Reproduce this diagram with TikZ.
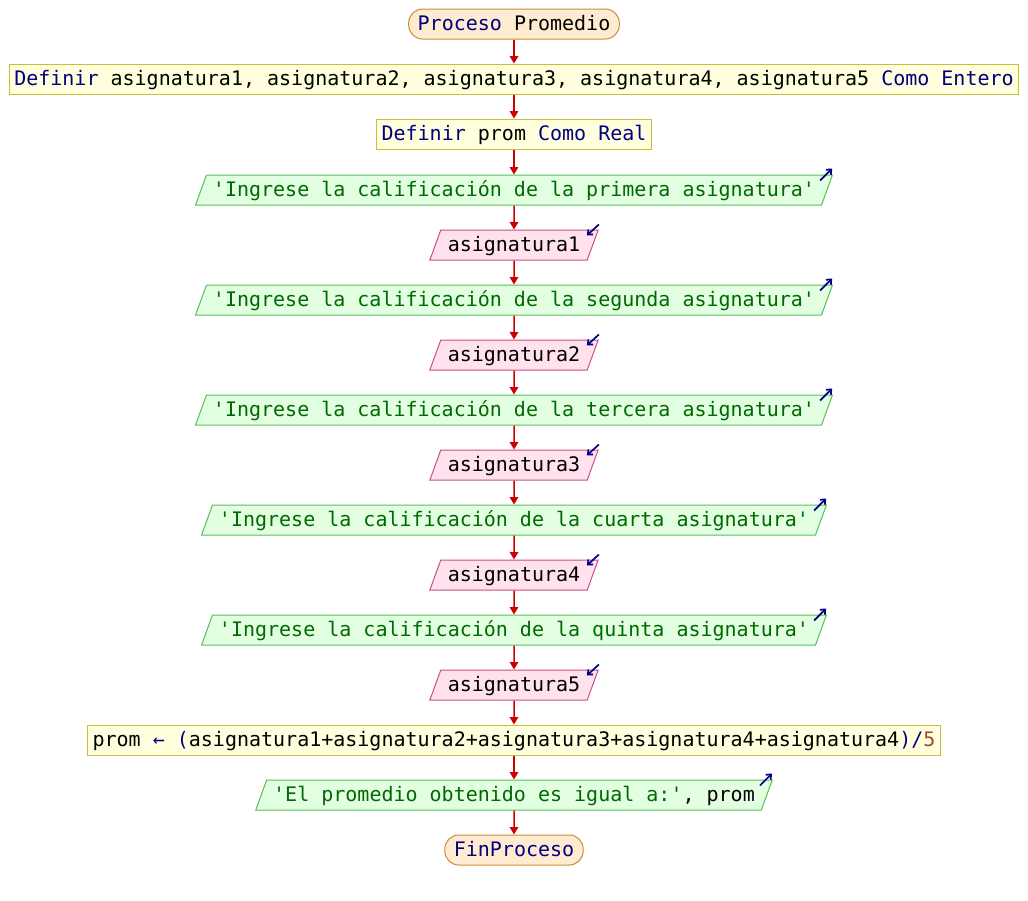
\documentclass[tikz,border=0pt]{standalone}
\usepackage{fontspec}
\setmonofont{DejaVu Sans Mono}
\usetikzlibrary{shapes.geometric,arrows.meta}
\definecolor{kwc}{RGB}{0,0,128}
\definecolor{strc}{RGB}{0,105,0}
\definecolor{numc}{RGB}{160,80,40}
\definecolor{termfill}{RGB}{255,236,208}
\definecolor{termdraw}{RGB}{200,140,60}
\definecolor{procfill}{RGB}{255,255,221}
\definecolor{procdraw}{RGB}{200,190,60}
\definecolor{outfill}{RGB}{226,255,226}
\definecolor{outdraw}{RGB}{90,190,90}
\definecolor{infill}{RGB}{255,226,238}
\definecolor{indraw}{RGB}{200,80,130}
\definecolor{flowc}{RGB}{204,0,0}
\newcommand\kwd[1]{\textcolor{kwc}{#1}}
\newcommand\strg[1]{\textcolor{strc}{#1}}
\newcommand\numb[1]{\textcolor{numc}{#1}}
\begin{document}
\begin{tikzpicture}[x=1pt,y=-1pt,
  base/.style={font=\ttfamily\fontsize{20}{24}\selectfont, text height=15.5pt, text depth=3.5pt,
    inner ysep=5.5pt, inner xsep=5pt, line width=1pt},
  term/.style={base, draw=termdraw, fill=termfill, rounded corners=14pt, inner xsep=9pt, text=kwc},
  proc/.style={base, draw=procdraw, fill=procfill},
  para/.style={base, trapezium, trapezium left angle=70, trapezium right angle=110},
  outp/.style={para, draw=outdraw, fill=outfill, inner xsep=6.5pt, text=strc},
  inp/.style={para, draw=indraw, fill=infill, inner xsep=7pt},
  flow/.style={draw=flowc, line width=1.5pt, -{Triangle[length=7.5pt,width=8.5pt]}},
  icon/.style={draw=kwc, line width=1.7pt, -{Straight Barb[length=4pt,width=7pt]}}
]
\useasboundingbox (0,0) rectangle (1028,900);

\node[term] (t1) at (514,24) {Proceso \textcolor{black}{Promedio}};
\node[proc] (d1) at (514,79) {\kwd{Definir} asignatura1, asignatura2, asignatura3, asignatura4, asignatura5 \kwd{Como Entero}};
\node[proc] (d2) at (514,134) {\kwd{Definir} prom \kwd{Como Real}};
\node[outp] (o1) at (514,190) {'Ingrese la calificación de la primera asignatura'};
\node[inp]  (i1) at (514,245) {asignatura1};
\node[outp] (o2) at (514,300) {'Ingrese la calificación de la segunda asignatura'};
\node[inp]  (i2) at (514,355) {asignatura2};
\node[outp] (o3) at (514,410) {'Ingrese la calificación de la tercera asignatura'};
\node[inp]  (i3) at (514,465) {asignatura3};
\node[outp] (o4) at (514,520) {'Ingrese la calificación de la cuarta asignatura'};
\node[inp]  (i4) at (514,575) {asignatura4};
\node[outp] (o5) at (514,630) {'Ingrese la calificación de la quinta asignatura'};
\node[inp]  (i5) at (514,685) {asignatura5};
\node[proc] (c1) at (514,740) {prom \kwd{← (}asignatura1+asignatura2+asignatura3+asignatura4+asignatura4\kwd{)/}\numb{5}};
\node[outp] (o6) at (514,795) {'El promedio obtenido es igual a:'\textcolor{black}{, prom}};
\node[term] (t2) at (514,850) {FinProceso};

\draw[flow] (t1) -- (d1);
\draw[flow] (d1) -- (d2);
\draw[flow] (d2) -- (o1);
\draw[flow] (o1) -- (i1);
\draw[flow] (i1) -- (o2);
\draw[flow] (o2) -- (i2);
\draw[flow] (i2) -- (o3);
\draw[flow] (o3) -- (i3);
\draw[flow] (i3) -- (o4);
\draw[flow] (o4) -- (i4);
\draw[flow] (i4) -- (o5);
\draw[flow] (o5) -- (i5);
\draw[flow] (i5) -- (c1);
\draw[flow] (c1) -- (o6);
\draw[flow] (o6) -- (t2);

\foreach \o in {o1,o2,o3,o4,o5,o6}{
  \draw[icon] ([shift={(-13,6)}]\o.top right corner) -- ([shift={(-1,-6)}]\o.top right corner);
}
\foreach \i in {i1,i2,i3,i4,i5}{
  \draw[icon] ([shift={(0,-5)}]\i.top right corner) -- ([shift={(-12,6)}]\i.top right corner);
}
\end{tikzpicture}
\end{document}
